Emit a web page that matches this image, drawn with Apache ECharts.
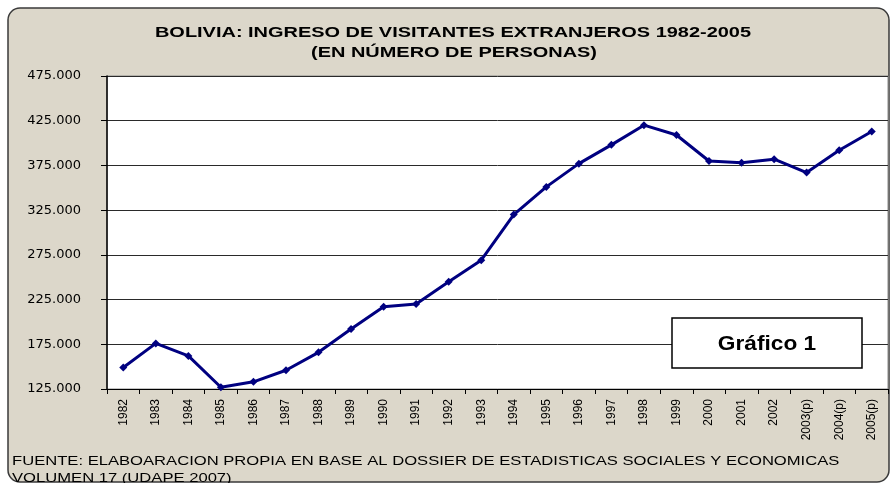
<!DOCTYPE html>
<html>
<head>
<meta charset="utf-8">
<script src="https://cdn.jsdelivr.net/npm/echarts@6/dist/echarts.min.js"></script>
<style>
  html, body { margin: 0; padding: 0; background: #fff; }
  #chart { width: 891px; height: 483px; }
</style>
</head>
<body>
<div id="chart"></div>
<script>
const years = ['1982', '1983', '1984', '1985', '1986', '1987', '1988', '1989', '1990', '1991', '1992', '1993',
  '1994', '1995', '1996', '1997', '1998', '1999', '2000', '2001', '2002', '2003(p)', '2004(p)', '2005(p)'];
const visitantes = [149000, 176000, 162000, 127000, 133000, 146000, 166000, 192000, 217000, 220000, 245000, 269000,
  320000, 351000, 377000, 398000, 420000, 409000, 380000, 378000, 382000, 367000, 392000, 413000];
const yTicks = [125000, 175000, 225000, 275000, 325000, 375000, 425000, 475000];

const fmt = v => String(v).replace(/\B(?=(\d{3})+(?!\d))/g, '.');

const chart = echarts.init(document.getElementById('chart'));
const option = {
  backgroundColor: '#fff',
  animation: false,
  grid: {
    left: 107,
    right: 3,
    top: 76,
    bottom: 94,
    show: true,
    backgroundColor: '#fff',
    borderColor: '#8a8a8a',
    borderWidth: 1,
    outerBoundsMode: 'none'
  },
  graphic: [
    {
      type: 'rect',
      z: -10,
      shape: {x: 8, y: 8, width: 881, height: 474, r: 12},
      style: {fill: '#dcd7ca', stroke: '#3a3a3a', lineWidth: 1.5}
    },
    {
      type: 'text',
      x: 453, y: 33,
      scaleX: 1.33,
      style: {
        text: 'BOLIVIA: INGRESO DE VISITANTES EXTRANJEROS 1982-2005',
        font: 'bold 15px "Liberation Sans", Arial, sans-serif',
        fill: '#000', align: 'center', verticalAlign: 'middle'
      }
    },
    {
      type: 'text',
      x: 454, y: 53,
      scaleX: 1.33,
      style: {
        text: '(EN NÚMERO DE PERSONAS)',
        font: 'bold 15px "Liberation Sans", Arial, sans-serif',
        fill: '#000', align: 'center', verticalAlign: 'middle'
      }
    },
    {
      type: 'text',
      x: 12, y: 461,
      scaleX: 1.23,
      style: {
        text: 'FUENTE: ELABOARACION PROPIA EN BASE AL DOSSIER DE ESTADISTICAS SOCIALES Y ECONOMICAS',
        font: '13.5px "Liberation Sans", Arial, sans-serif',
        fill: '#000', align: 'left', verticalAlign: 'middle'
      }
    },
    {
      type: 'text',
      x: 12, y: 478,
      scaleX: 1.23,
      style: {
        text: 'VOLUMEN 17 (UDAPE 2007)',
        font: '13.5px "Liberation Sans", Arial, sans-serif',
        fill: '#000', align: 'left', verticalAlign: 'middle'
      }
    },
    {
      type: 'rect',
      z: 100,
      shape: {x: 672, y: 318, width: 190, height: 50},
      style: {fill: '#fff', stroke: '#000', lineWidth: 1.5}
    },
    {
      type: 'text',
      z: 101,
      x: 767, y: 344,
      scaleX: 1.08,
      style: {
        text: 'Gráfico 1',
        font: 'bold 21px "Liberation Sans", Arial, sans-serif',
        fill: '#000', align: 'center', verticalAlign: 'middle'
      }
    }
  ],
  xAxis: {
    type: 'category',
    data: years,
    boundaryGap: true,
    axisLine: {show: true, lineStyle: {color: '#000', width: 1}},
    axisTick: {show: true, length: 5, lineStyle: {color: '#000'}},
    axisLabel: {
      interval: 0,
      rotate: 90,
      margin: 10,
      fontSize: 12,
      fontFamily: '"Liberation Sans", Arial, sans-serif',
      color: '#000'
    },
    splitLine: {show: false}
  },
  yAxis: {
    type: 'value',
    min: 125000,
    max: 475000,
    axisLine: {show: true, lineStyle: {color: '#000', width: 1.5}},
    axisTick: {show: true, length: 6, customValues: yTicks, lineStyle: {color: '#000'}},
    axisLabel: {
      customValues: yTicks,
      formatter: fmt,
      margin: 26,
      fontSize: 13,
      fontFamily: '"DejaVu Sans", sans-serif',
      color: '#000'
    },
    splitLine: {show: true, lineStyle: {color: '#2a2a2a', width: 1}}
  },
  series: [
    {
      type: 'line',
      data: visitantes,
      symbol: 'diamond',
      symbolSize: 8,
      lineStyle: {color: '#000080', width: 3},
      itemStyle: {color: '#000080'}
    }
  ]
};
chart.setOption(option);
</script>
</body>
</html>
